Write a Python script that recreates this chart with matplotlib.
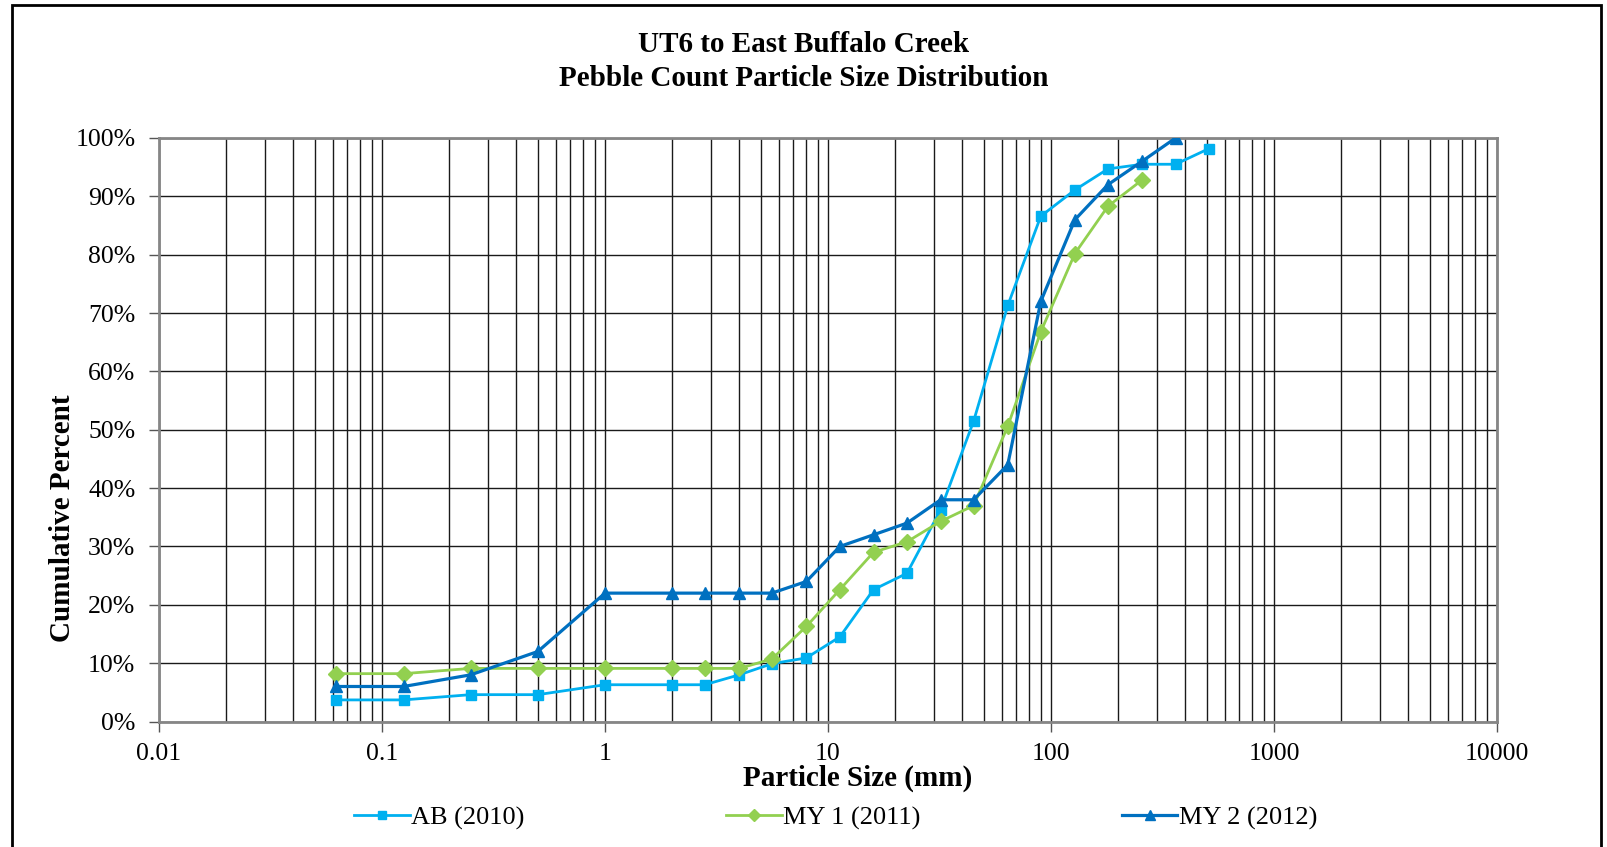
import matplotlib
matplotlib.use("Agg")
import matplotlib.pyplot as plt
from matplotlib.ticker import PercentFormatter, LogLocator, NullFormatter
from matplotlib.patches import Rectangle

plt.rcParams['font.family'] = ['Liberation Serif', 'DejaVu Serif']

sizes_ab = [0.062, 0.125, 0.25, 0.5, 1, 2, 2.8, 4, 5.6, 8, 11.3, 16, 22.6, 32, 45, 64, 90, 128, 180, 256, 362, 512]
ab_2010 = [3.7, 3.7, 4.6, 4.6, 6.3, 6.3, 6.3, 8.0, 9.9, 10.9, 14.5, 22.6, 25.4, 36.3, 51.5, 71.3, 86.6, 91.1, 94.7, 95.5, 95.5, 98.2]

sizes_my1 = [0.062, 0.125, 0.25, 0.5, 1, 2, 2.8, 4, 5.6, 8, 11.3, 16, 22.6, 32, 45, 64, 90, 128, 180, 256]
my1_2011 = [8.2, 8.2, 9.1, 9.1, 9.1, 9.1, 9.1, 9.1, 10.7, 16.3, 22.6, 29.0, 30.8, 34.3, 37.0, 50.6, 66.8, 80.2, 88.3, 92.8]

sizes_my2 = [0.062, 0.125, 0.25, 0.5, 1, 2, 2.8, 4, 5.6, 8, 11.3, 16, 22.6, 32, 45, 64, 90, 128, 180, 256, 362]
my2_2012 = [6, 6, 8, 12, 22, 22, 22, 22, 22, 24, 30, 32, 34, 38, 38, 44, 72, 86, 92, 96, 100]

series_labels = ["AB (2010)", "MY 1 (2011)", "MY 2 (2012)"]
title = "UT6 to East Buffalo Creek\nPebble Count Particle Size Distribution"
xlabel = "Particle Size (mm)"
ylabel = "Cumulative Percent"
xtick_vals = [0.01, 0.1, 1, 10, 100, 1000, 10000]
xtick_labels = ["0.01", "0.1", "1", "10", "100", "1000", "10000"]

W, H = 1607, 847
fig = plt.figure(figsize=(W / 100, H / 100), dpi=100)
ax = fig.add_axes([159 / W, 1 - 721.5 / H, (1497 - 159) / W, (721.5 - 138) / H])

ax.plot(sizes_ab, ab_2010, color='#00B0F0', marker='s', markersize=7.5, lw=2, label=series_labels[0], zorder=3)
ax.plot(sizes_my1, my1_2011, color='#92D050', marker='D', markersize=8, lw=2, label=series_labels[1], zorder=3)
ax.plot(sizes_my2, my2_2012, color='#0070C0', marker='^', markersize=8.5, lw=2.3, label=series_labels[2], zorder=4)

ax.set_xscale('log')
ax.set_xlim(0.01, 10000)
ax.set_ylim(0, 100)
ax.set_xticks(xtick_vals)
ax.set_xticklabels(xtick_labels)
ax.xaxis.set_minor_locator(LogLocator(base=10, subs=range(2, 10), numticks=100))
ax.xaxis.set_minor_formatter(NullFormatter())
ax.set_yticks(range(0, 101, 10))
ax.yaxis.set_major_formatter(PercentFormatter(decimals=0))

ax.grid(True, which='major', axis='both', color='#1a1a1a', lw=1.0)
ax.grid(True, which='minor', axis='x', color='#1a1a1a', lw=1.0)
ax.set_axisbelow(True)

for s in ax.spines.values():
    s.set_color('#868686')
    s.set_linewidth(2)

ax.tick_params(axis='both', which='major', labelsize=18.5, length=7, width=1, color='#555555')
ax.tick_params(axis='x', which='minor', length=0)
ax.tick_params(axis='x', which='major', pad=8.5)
ax.tick_params(axis='y', which='major', pad=10)

fig.text(0.5, 1 - 61.5 / H, title, ha='center', va='center', fontsize=21, fontweight='bold', linespacing=1.38)

ax.set_xlabel(xlabel, fontsize=21, fontweight='bold')
ax.xaxis.set_label_coords(0.522, -0.098)
ax.xaxis.label.set_va('center')
ax.set_ylabel(ylabel, fontsize=21, fontweight='bold')
ax.yaxis.set_label_coords(-0.062, 0.348)

leg = fig.legend(loc='center', bbox_to_anchor=(0.52, 1 - 818 / H), ncol=3, frameon=False,
                 fontsize=19, columnspacing=7.65, handlelength=2.1, handletextpad=0.05, markerscale=0.8)

fig.patches.append(Rectangle((12 / W, -0.05), (1601 - 12) / W, 1.05 - 5 / H,
                             transform=fig.transFigure, fill=False, edgecolor='black', lw=2))

fig.savefig('out.png', dpi=100)
